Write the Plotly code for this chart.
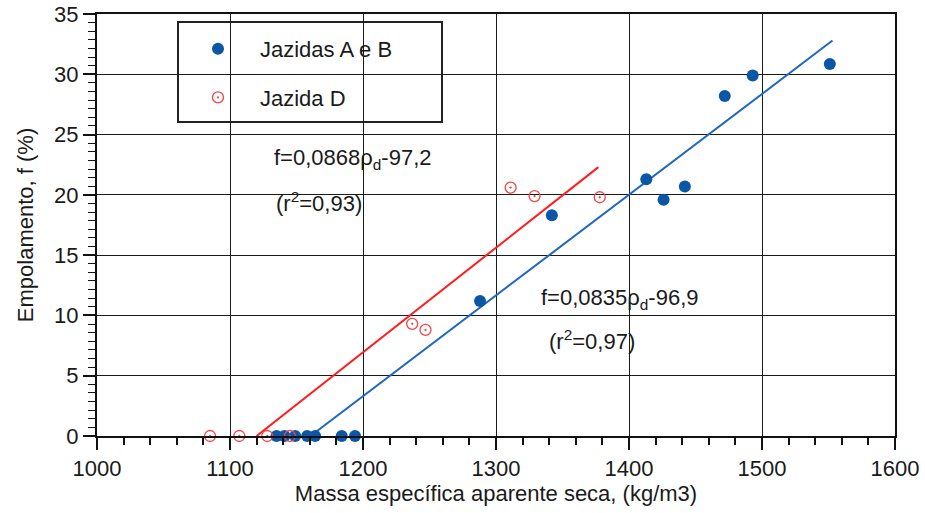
import plotly.graph_objects as go

# ---------------- data ----------------
ab_rho = [1135, 1141, 1149, 1158, 1164, 1184, 1194,
          1288, 1342, 1413, 1426, 1442, 1472, 1493, 1551]
ab_f = [0, 0, 0, 0, 0, 0, 0,
        11.2, 18.3, 21.3, 19.6, 20.7, 28.2, 29.9, 30.85]

d_rho = [1085, 1107, 1128, 1145, 1237, 1247, 1311, 1329, 1378]
d_f = [0, 0, 0, 0, 9.3, 8.8, 20.6, 19.9, 19.8]

# regression line end points (f=0,0835*rho-96,9 and f=0,0868*rho-97,2)
ab_fit_rho = [1160.5, 1553]
ab_fit_f = [0, 32.8]
d_fit_rho = [1120, 1377]
d_fit_f = [0, 22.3]

x_ticks = [1000, 1100, 1200, 1300, 1400, 1500, 1600]
y_ticks = [0, 5, 10, 15, 20, 25, 30, 35]

FONT = "Arial, Liberation Sans, Helvetica, sans-serif"
TXT = "#1a1a1a"
BLUE = "#0b57a6"
BLUE_LINE = "#1f67bf"
RED = "#f04646"
RED_LINE = "#ff1c1c"

# plot area in pixels
W, H = 925, 513
PL, PR, PT, PB = 97, 895, 14, 436


def px(p):
    return (p - PL) / (PR - PL)


def py(p):
    return (PB - p) / (PB - PT)


fig = go.Figure()

fig.add_trace(go.Scatter(
    x=ab_fit_rho, y=ab_fit_f, mode="lines",
    line=dict(color=BLUE_LINE, width=2), showlegend=False, hoverinfo="skip"))
fig.add_trace(go.Scatter(
    x=d_fit_rho, y=d_fit_f, mode="lines",
    line=dict(color=RED_LINE, width=2), showlegend=False, hoverinfo="skip"))

fig.add_trace(go.Scatter(
    x=ab_rho, y=ab_f, mode="markers", name="Jazidas A e B",
    legendgroup="ab",
    marker=dict(symbol="circle", size=12, color=BLUE, line=dict(width=0)),
    cliponaxis=False))
fig.add_trace(go.Scatter(
    x=d_rho, y=d_f, mode="markers", name="Jazida D",
    legendgroup="d",
    marker=dict(symbol="circle-open-dot", size=11, color=RED,
                line=dict(width=1.3, color=RED)),
    cliponaxis=False))

shapes = []
# legend box
shapes.append(dict(type="rect", xref="paper", yref="paper",
                   x0=px(178), x1=px(442), y0=py(122), y1=py(22),
                   fillcolor="white", line=dict(color="#222", width=2),
                   layer="between"))
# white boxes behind the equations
shapes.append(dict(type="rect", xref="paper", yref="paper",
                   x0=px(258), x1=px(490), y0=py(222), y1=py(140),
                   fillcolor="white", line=dict(width=0), layer="between"))
shapes.append(dict(type="rect", xref="paper", yref="paper",
                   x0=px(530), x1=px(752), y0=py(360), y1=py(278),
                   fillcolor="white", line=dict(width=0), layer="between"))

ann_font = dict(family=FONT, size=22, color=TXT)
annotations = [
    dict(text="f=0,0868ρ<sub>d</sub>-97,2", x=px(272), y=py(159)),
    dict(text="(r<sup>2</sup>=0,93)", x=px(274), y=py(202)),
    dict(text="f=0,0835ρ<sub>d</sub>-96,9", x=px(539), y=py(299)),
    dict(text="(r<sup>2</sup>=0,97)", x=px(547), y=py(340)),
]
for a in annotations:
    a.update(xref="paper", yref="paper", xanchor="left", yanchor="middle",
             showarrow=False, font=ann_font)

axis_common = dict(
    showline=True, linecolor="#111", linewidth=2, mirror=True,
    showgrid=True, gridcolor="#1a1a1a", gridwidth=1.4,
    zeroline=False, ticks="outside", ticklen=12, tickwidth=1.5,
    tickcolor="#111", automargin=False,
    tickfont=dict(family=FONT, size=22, color=TXT),
)

fig.update_layout(
    width=W, height=H,
    margin=dict(l=PL, r=W - PR, t=PT, b=H - PB),
    paper_bgcolor="white", plot_bgcolor="white",
    font=dict(family=FONT, color=TXT),
    xaxis=dict(range=[1000, 1600], tickvals=x_ticks,
               ticktext=[str(v) for v in x_ticks],
               minor=dict(dtick=20, ticks="outside", ticklen=7,
                          tickcolor="#111", tickwidth=1.5, showgrid=False),
               title=dict(text="Massa específica aparente seca, (kg/m3)",
                          font=dict(family=FONT, size=22, color=TXT),
                          standoff=4),
               **axis_common),
    yaxis=dict(range=[0, 35], tickvals=y_ticks,
               ticktext=[str(v) for v in y_ticks],
               minor=dict(dtick=5 / 7, ticks="outside", ticklen=7,
                          tickcolor="#111", tickwidth=1.2, showgrid=False),
               title=dict(text="Empolamento, f (%)",
                          font=dict(family=FONT, size=22, color=TXT),
                          standoff=14),
               **axis_common),
    legend=dict(x=px(176), y=py(28), xanchor="left", yanchor="top",
                bgcolor="rgba(0,0,0,0)", borderwidth=0,
                traceorder="grouped", tracegroupgap=17, itemwidth=74,
                font=dict(family=FONT, size=22, color=TXT)),
    shapes=shapes,
    annotations=annotations,
)

fig.write_html("out.html")
